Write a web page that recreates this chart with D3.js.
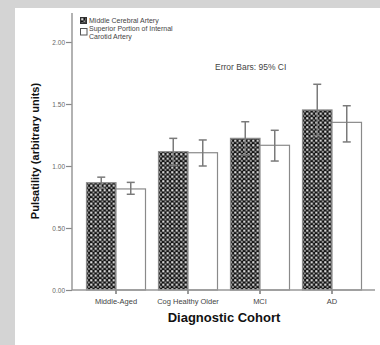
<!DOCTYPE html>
<html>
<head>
<meta charset="utf-8">
<script src="https://cdn.jsdelivr.net/npm/d3@7"></script>
<style>
  html, body { margin: 0; padding: 0; overflow: hidden; background: #fff; }
  svg { display: block; font-family: Arial, "Liberation Sans", sans-serif; }
</style>
</head>
<body>
<svg id="chart" width="380" height="345"></svg>
<script>
// data
var cohorts = ['Middle-Aged', 'Cog Healthy Older', 'MCI', 'AD'];
var seriesNames = ['Middle Cerebral Artery', 'Superior Portion of Internal Carotid Artery'];
var mcaMean = [0.865, 1.115, 1.223, 1.452];
var mcaLow = [0.82, 1.005, 1.09, 1.245];
var mcaHigh = [0.91, 1.223, 1.357, 1.659];
var icaMean = [0.815, 1.107, 1.167, 1.352];
var icaLow = [0.772, 1.0, 1.04, 1.194];
var icaHigh = [0.868, 1.21, 1.288, 1.486];
var yTicks = [0, 0.5, 1, 1.5, 2];

var svg = d3.select('#chart');

// gray frame on the left and top, white elsewhere
svg.append('rect')
  .attr('width', 380).attr('height', 8)
  .attr('fill', '#d4d4d4');
svg.append('rect')
  .attr('width', 15).attr('height', 345)
  .attr('fill', '#d4d4d4');

// checker pattern for MCA bars
var pat = svg.append('defs').append('pattern')
  .attr('id', 'checks')
  .attr('patternUnits', 'userSpaceOnUse')
  .attr('width', 4.5).attr('height', 4.5);
pat.append('rect').attr('width', 4.5).attr('height', 4.5).attr('fill', '#111');
pat.append('rect').attr('x', 0.25).attr('y', 0.25).attr('width', 2).attr('height', 2).attr('fill', '#fff');
pat.append('rect').attr('x', 2.5).attr('y', 2.5).attr('width', 1.75).attr('height', 1.75).attr('fill', '#bbb');

var x = d3.scaleBand()
  .domain(cohorts)
  .range([80, 368]);

var y = d3.scaleLinear()
  .domain([0, 2])
  .range([290, 42]);

var barW = 29.5;

var rows = cohorts.map(function (c, i) {
  return [
    { c: c, s: 0, mean: mcaMean[i], lo: mcaLow[i], hi: mcaHigh[i] },
    { c: c, s: 1, mean: icaMean[i], lo: icaLow[i], hi: icaHigh[i] }
  ];
});
var bars = d3.merge(rows);

function barX(d) {
  var mid = x(d.c) + x.bandwidth() / 2;
  return d.s === 0 ? mid - barW : mid;
}

// bars
svg.append('g').selectAll('rect')
  .data(bars)
  .enter().append('rect')
  .attr('x', barX)
  .attr('y', function (d) { return y(d.mean); })
  .attr('width', barW)
  .attr('height', function (d) { return y(0) - y(d.mean); })
  .attr('fill', function (d) { return d.s === 0 ? 'url(#checks)' : '#fff'; })
  .attr('stroke', '#8a8a8a')
  .attr('stroke-width', 1.2);

// error bars
var eb = svg.append('g')
  .attr('stroke', '#7a7a7a')
  .attr('stroke-width', 1.5);
bars.forEach(function (d) {
  var cx = barX(d) + barW / 2;
  eb.append('line').attr('x1', cx).attr('x2', cx)
    .attr('y1', y(d.lo)).attr('y2', y(d.hi));
  eb.append('line').attr('x1', cx - 4).attr('x2', cx + 4)
    .attr('y1', y(d.lo)).attr('y2', y(d.lo));
  eb.append('line').attr('x1', cx - 4).attr('x2', cx + 4)
    .attr('y1', y(d.hi)).attr('y2', y(d.hi));
});

// y axis
var yAxis = svg.append('g')
  .attr('transform', 'translate(72,0)')
  .call(d3.axisLeft(y).tickValues(yTicks).tickFormat(d3.format('.2f')).tickSize(6).tickPadding(1));
yAxis.select('.domain').remove();
yAxis.selectAll('.tick line').attr('stroke', '#888').attr('stroke-width', 1.2);
yAxis.selectAll('.tick text').attr('fill', '#666').style('font-size', '6.5px');
svg.append('line')
  .attr('x1', 72).attr('x2', 72)
  .attr('y1', 13).attr('y2', y(0))
  .attr('stroke', '#999').attr('stroke-width', 1.5);

// x axis
var xAxis = svg.append('g')
  .attr('transform', 'translate(0,' + y(0) + ')')
  .call(d3.axisBottom(x).tickSize(4).tickPadding(5));
xAxis.select('.domain').remove();
xAxis.selectAll('.tick line').attr('stroke', '#555').attr('stroke-width', 1.2);
xAxis.selectAll('.tick text').attr('fill', '#444').style('font-size', '7.5px');
svg.append('line')
  .attr('x1', 72).attr('x2', 375)
  .attr('y1', y(0)).attr('y2', y(0))
  .attr('stroke', '#999').attr('stroke-width', 1.5);

// axis titles
svg.append('text')
  .attr('transform', 'translate(39,151) rotate(-90)')
  .attr('text-anchor', 'middle')
  .style('font-size', '11px').style('font-weight', 'bold')
  .attr('fill', '#111')
  .text('Pulsatility (arbitrary units)');

svg.append('text')
  .attr('x', 224).attr('y', 322)
  .attr('text-anchor', 'middle')
  .style('font-size', '13px').style('font-weight', 'bold')
  .attr('fill', '#111')
  .text('Diagnostic Cohort');

svg.append('text')
  .attr('x', 215).attr('y', 70)
  .style('font-size', '8.5px')
  .attr('fill', '#444')
  .text('Error Bars: 95% CI');

// legend
var leg = svg.append('g').style('font-size', '7px').attr('fill', '#444');
leg.append('rect').attr('x', 80.5).attr('y', 17.5).attr('width', 6).attr('height', 6)
  .attr('fill', 'url(#checks)').attr('stroke', '#333');
leg.append('text').attr('x', 89).attr('y', 23).text(seriesNames[0]);
leg.append('rect').attr('x', 80.5).attr('y', 28.5).attr('width', 6.5).attr('height', 6.5)
  .attr('fill', '#fff').attr('stroke', '#555');
leg.append('text').attr('x', 89).attr('y', 31).text('Superior Portion of Internal');
leg.append('text').attr('x', 89).attr('y', 39).text('Carotid Artery');
</script>
</body>
</html>
